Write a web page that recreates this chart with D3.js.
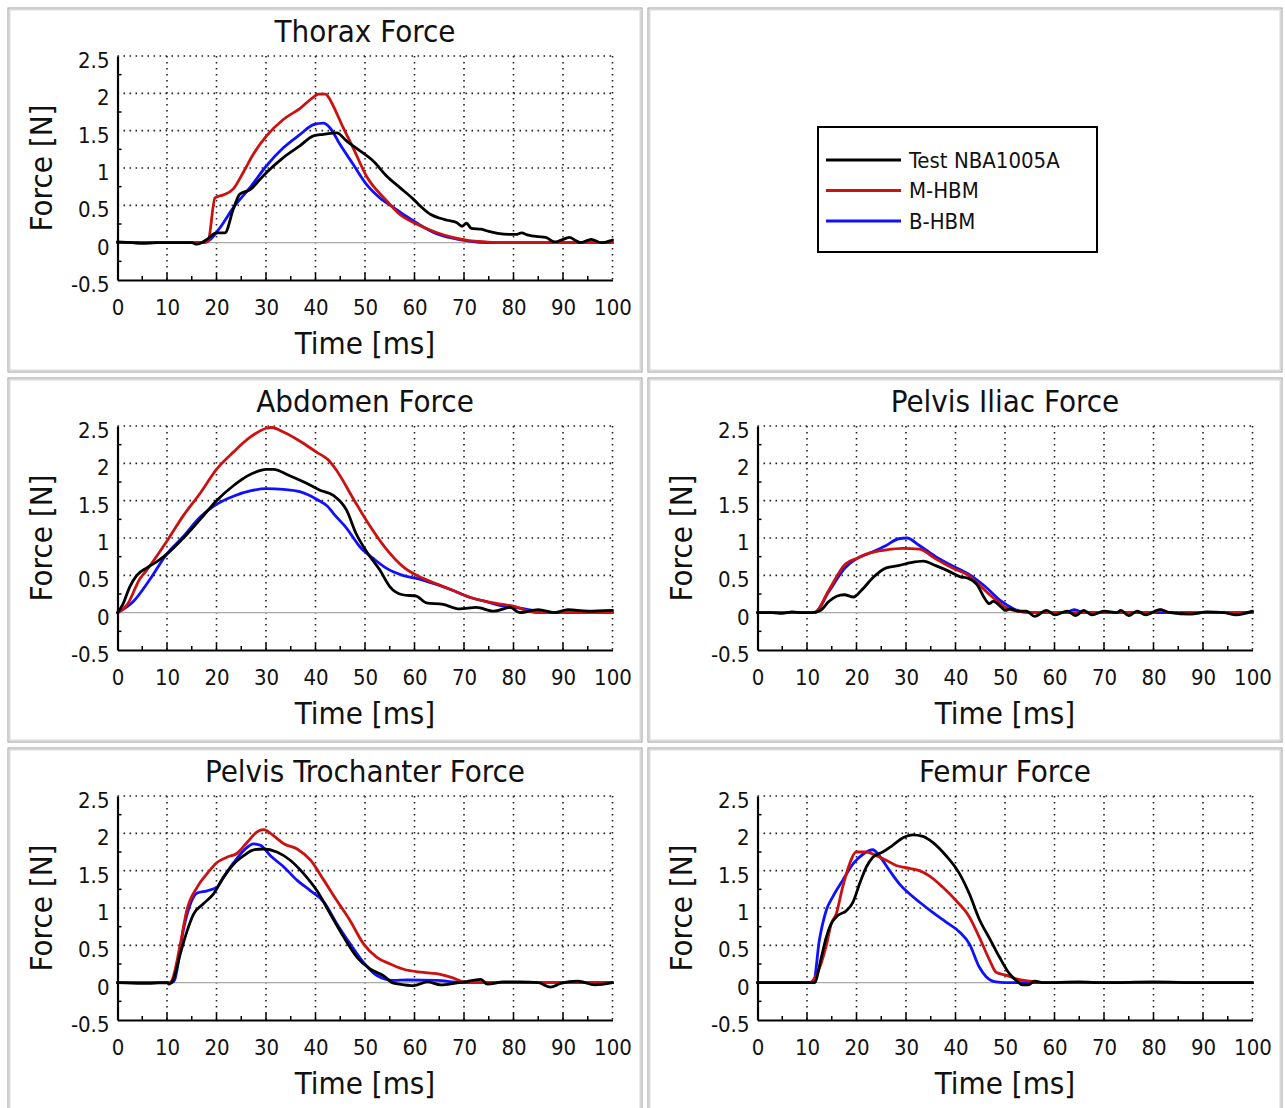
<!DOCTYPE html>
<html>
<head>
<meta charset="utf-8">
<script src="https://cdn.jsdelivr.net/npm/d3@7"></script>
<style>
  html, body { margin: 0; padding: 0; background: #fff; }
  svg { display: block; }
  .cond { font-family: 'DejaVu Sans Condensed', 'DejaVu Sans', sans-serif; font-stretch: condensed; }
  .tick text { font-family: 'DejaVu Sans Condensed', 'DejaVu Sans', sans-serif; font-stretch: condensed; font-size: 22px; fill: #111; }
</style>
</head>
<body>
<svg id="chart" width="1285" height="1108"></svg>
<script>
// Time [ms] / force [N] samples for each body region: test, M-HBM, B-HBM
const thoraxTest = [[0,0.01],[3,0],[5,-0.01],[8,0],[12,0],[15,0],[16,-0.02],[17,0],[18,0.04],[20,0.13],[21.7,0.13],[23.4,0.45],[24.7,0.65],[26.8,0.71],[28.8,0.85],[30.1,0.94],[33.5,1.14],[36.9,1.3],[39.6,1.43],[41.6,1.45],[44.3,1.47],[46.3,1.36],[49,1.23],[51.7,1.09],[54.4,0.89],[57,0.74],[59.8,0.58],[61.5,0.47],[63.2,0.38],[65,0.33],[66.6,0.3],[68.5,0.27],[69.6,0.22],[70.5,0.26],[71.5,0.19],[73.5,0.18],[75,0.15],[76.8,0.125],[79,0.11],[80.5,0.11],[81.6,0.13],[83,0.1],[85,0.08],[86.5,0.07],[88.3,0.01],[89.5,0.03],[91.3,0.07],[92.5,0.03],[93.5,0],[95.7,0.045],[97.7,0],[100,0.035]];
const thoraxM = [[0,0],[17.5,0],[18.3,0.02],[19.7,0.6],[21.4,0.64],[23.4,0.72],[25.4,0.94],[27.4,1.18],[30.1,1.43],[33.5,1.65],[36.9,1.8],[39.6,1.95],[40.6,1.99],[42,1.99],[42.8,1.93],[43.6,1.83],[45.6,1.54],[47.6,1.27],[50.3,0.89],[54.4,0.56],[57,0.38],[60.4,0.25],[64.3,0.14],[67.7,0.07],[71,0.027],[74.4,0.01],[78,0],[100,0]];
const thoraxB = [[0,0],[17.5,0],[18.5,0.03],[20.7,0.2],[23.4,0.47],[26.8,0.74],[30.1,1.03],[33.5,1.27],[36.9,1.45],[39.6,1.58],[41.6,1.6],[42.9,1.54],[44.9,1.32],[47.6,1.05],[50.3,0.78],[53,0.6],[55.8,0.47],[58.4,0.35],[61,0.24],[64.3,0.125],[67.7,0.06],[71,0.02],[75,0],[100,0]];

const abdomenTest = [[0,0],[1,0.1],[2.5,0.35],[3.9,0.5],[5.9,0.6],[7.9,0.68],[9.9,0.78],[13.3,1.0],[16.7,1.25],[20,1.5],[23.4,1.7],[26.8,1.85],[30.1,1.92],[31.5,1.92],[34.9,1.83],[38.3,1.73],[40.9,1.64],[43.6,1.57],[46.3,1.37],[48.2,1.06],[50.3,0.82],[53,0.57],[55,0.35],[57.6,0.24],[60.4,0.22],[62.4,0.13],[65.8,0.11],[69.1,0.05],[72.5,0.07],[76,0.02],[79.3,0.07],[81.3,0],[85,0.04],[88.3,0],[91,0.04],[95,0.02],[100,0.03]];
const abdomenM = [[0,0],[1.9,0.1],[4.5,0.45],[5.9,0.57],[9.9,0.95],[13.3,1.3],[16.7,1.6],[20,1.92],[23.4,2.15],[26.8,2.35],[30.1,2.47],[31.1,2.48],[33.5,2.42],[36.8,2.3],[40.2,2.15],[42.5,2.05],[44.2,1.91],[47.6,1.53],[50.9,1.17],[54.2,0.86],[57.6,0.62],[61,0.48],[64.3,0.39],[67.7,0.3],[71,0.21],[74.4,0.15],[77.8,0.11],[80.4,0.08],[82.5,0.03],[85,0],[100,0]];
const abdomenB = [[0,0],[3.2,0.15],[6.6,0.45],[9.9,0.78],[13.3,1.02],[16.7,1.28],[20,1.45],[23.4,1.56],[26.8,1.63],[30.1,1.66],[33.5,1.65],[36.8,1.62],[40.2,1.52],[42.5,1.42],[43.6,1.33],[46.3,1.13],[49,0.88],[51.6,0.73],[54.2,0.6],[57.6,0.5],[61,0.45],[64.3,0.38],[67.7,0.3],[71,0.21],[74.4,0.15],[77.8,0.09],[81.3,0.06],[85,0.02],[88,0],[100,0]];

const iliacTest = [[0,0],[3,0],[5,-0.01],[7,0.01],[9,0],[11,0],[12.7,0.03],[14.4,0.15],[16,0.22],[17.5,0.24],[19.4,0.21],[21,0.3],[23.5,0.48],[26,0.6],[28.5,0.63],[31,0.67],[33.5,0.69],[36,0.63],[38.5,0.56],[41,0.48],[42.6,0.46],[44.3,0.38],[46,0.18],[46.8,0.12],[47.6,0.15],[49.3,0.07],[50.1,0.03],[51,0.05],[52.6,0.02],[54.3,0.02],[56,-0.05],[58.4,0.03],[60.1,-0.03],[62.6,0.02],[64.3,-0.04],[65.9,0.03],[67.6,-0.03],[70,0.02],[72.6,0],[73.4,0.03],[75,-0.04],[76.7,0.02],[78.4,-0.03],[81.3,0.04],[83.4,0],[87.5,-0.02],[90.8,0.01],[94.2,0],[96.7,-0.03],[100,0.02]];
const iliacM = [[0,0],[11.5,0],[14.4,0.3],[17.7,0.65],[20.2,0.73],[22.7,0.8],[26,0.84],[29.3,0.86],[32.7,0.85],[36,0.72],[39.3,0.6],[42.6,0.5],[45.1,0.35],[47.6,0.2],[50.1,0.07],[52.6,0.02],[56,0],[80,0],[81.5,0.04],[83,0],[100,0]];
const iliacB = [[0,0],[11.5,0],[14.4,0.28],[17.7,0.6],[20.2,0.73],[22.7,0.8],[26,0.9],[28.5,0.99],[30.2,1.0],[32.7,0.9],[36,0.75],[39.3,0.63],[42.6,0.52],[46,0.35],[49.3,0.15],[51.8,0.05],[53.5,0.01],[56,0],[62,0],[64,0.04],[66,0],[100,0]];

const trochTest = [[0,0],[5,-0.01],[10,0],[10.4,-0.02],[11.2,0.03],[12.7,0.39],[14,0.68],[15.4,0.92],[17.4,1.06],[19.4,1.19],[21.4,1.41],[23.5,1.59],[25.5,1.7],[27.5,1.78],[29.5,1.79],[32.2,1.75],[34.9,1.64],[37.6,1.46],[40.3,1.23],[43,0.92],[45.7,0.61],[48.4,0.34],[51.1,0.18],[53.8,0.09],[55.5,0],[57,-0.02],[59.8,-0.04],[62.6,0.01],[65.3,-0.03],[68,-0.01],[70,0.01],[73.4,0.045],[74.7,-0.02],[78,0.01],[81.3,0.01],[85,0],[87.5,-0.06],[89.5,-0.01],[93,0.02],[96.4,-0.03],[100,0]];
const trochM = [[0,0],[10.6,0],[11,0.03],[12.7,0.52],[14,0.97],[16.1,1.28],[18.1,1.46],[20.1,1.61],[22.1,1.68],[24.1,1.73],[26.2,1.88],[28.2,2.02],[29.5,2.05],[31.5,1.97],[33.6,1.86],[36.3,1.79],[39,1.64],[41.7,1.37],[44.3,1.1],[47,0.83],[49.7,0.52],[52.4,0.34],[55.1,0.25],[57.8,0.18],[61.2,0.14],[64.5,0.12],[67.9,0.06],[70,0.01],[72,0],[100,0]];
const trochB = [[0,0],[11,0],[11.5,0.03],[13.4,0.74],[14.7,1.05],[16.1,1.2],[18.1,1.23],[20.1,1.28],[21.4,1.41],[23.5,1.61],[25.5,1.77],[27.5,1.86],[28.9,1.84],[30.9,1.7],[33.6,1.55],[36.3,1.37],[39,1.23],[41.7,1.08],[44.3,0.79],[47,0.52],[49.7,0.27],[52.4,0.096],[55.8,0.03],[58.5,0.036],[64.5,0.03],[68,0.01],[70,0],[100,0]];

const femurTest = [[0,0],[5,0],[10,0],[11.5,0],[12.9,0.34],[13.9,0.61],[14.9,0.79],[16.2,0.9],[17.9,0.96],[19.3,1.08],[20.6,1.32],[22,1.55],[23.3,1.68],[25.3,1.75],[27.3,1.84],[29.4,1.94],[31.4,1.98],[33.4,1.96],[35.4,1.88],[38.1,1.7],[40.8,1.46],[42.8,1.19],[44.8,0.85],[46.9,0.59],[48.9,0.34],[50.9,0.12],[52.6,0.01],[53.5,-0.03],[54.7,-0.03],[56,0.02],[57.6,0],[65,0.01],[70,0],[80,0.01],[90,0],[100,0]];
const femurM = [[0,0],[10.5,0],[11.9,0.1],[13.9,0.5],[14.9,0.79],[15.9,0.92],[17.2,1.28],[18.6,1.59],[19.9,1.75],[22,1.75],[24,1.7],[26,1.64],[28,1.57],[30,1.54],[32.7,1.5],[34.7,1.43],[37.4,1.28],[40.1,1.1],[42.8,0.88],[44.8,0.61],[46.9,0.3],[48.2,0.14],[50.2,0.1],[52.3,0.05],[55.1,0.02],[58.4,0],[100,0]];
const femurB = [[0,0],[11.3,0],[12.5,0.57],[13.9,0.97],[15.2,1.15],[17.2,1.37],[19.3,1.59],[21.3,1.72],[23.3,1.78],[24.6,1.7],[26.7,1.5],[28.7,1.32],[30.7,1.19],[32.7,1.08],[35.4,0.94],[38.1,0.81],[40.8,0.68],[42.8,0.52],[44.8,0.21],[46.2,0.08],[48.2,0.01],[50,0],[100,0]];

const seriesNames = ["Test NBA1005A", "M-HBM", "B-HBM"];
const seriesColors = ["#000000", "#cc1111", "#1010ff"];

const xTicks = [0, 10, 20, 30, 40, 50, 60, 70, 80, 90, 100];
const yTicks = [-0.5, 0, 0.5, 1, 1.5, 2, 2.5];
const yTickLabels = ["-0.5", "0", "0.5", "1", "1.5", "2", "2.5"];
const xMinorTicks = [5, 15, 25, 35, 45, 55, 65, 75, 85, 95];
const yMinorTicks = [-0.25, 0.25, 0.75, 1.25, 1.75, 2.25];

const panelTitles = ["Thorax Force", null, "Abdomen Force", "Pelvis Iliac Force", "Pelvis Trochanter Force", "Femur Force"];
const panelSeries = [[thoraxTest, thoraxM, thoraxB], null, [abdomenTest, abdomenM, abdomenB], [iliacTest, iliacM, iliacB], [trochTest, trochM, trochB], [femurTest, femurM, femurB]];

// Layout
const colX = [8, 648], rowY = [8, 378, 748];
const panelW = 634, panelH = 364;
const plot = { left: 109.5, top: 48, width: 495, height: 224 };

const svg = d3.select("#chart");

const x = d3.scaleLinear().domain([0, 100]).range([0, plot.width]);
const y = d3.scaleLinear().domain([-0.5, 2.5]).range([plot.height, 0]);

const line = d3.line().x(d => x(d[0])).y(d => y(d[1])).curve(d3.curveMonotoneX);

panelTitles.forEach((title, i) => {
  const px = colX[i % 2], py = rowY[Math.floor(i / 2)];
  const panel = svg.append("g").attr("transform", `translate(${px},${py})`);

  // double grey frame
  panel.append("rect").attr("x", 0).attr("y", 0).attr("width", panelW).attr("height", panelH)
    .attr("fill", "#fff").attr("stroke", "#9c9c9c").attr("stroke-width", 1);
  panel.append("rect").attr("x", 1.8).attr("y", 1.8).attr("width", panelW - 3.6).attr("height", panelH - 3.6)
    .attr("fill", "none").attr("stroke", "#d0d0d0").attr("stroke-width", 1.2);

  if (!panelSeries[i]) {
    drawLegend(panel);
    return;
  }

  const g = panel.append("g").attr("transform", `translate(${plot.left},${plot.top})`);

  // dotted grid
  g.append("g").selectAll("line").data(xTicks.slice(1)).join("line")
    .attr("x1", d => x(d)).attr("x2", d => x(d)).attr("y1", 0).attr("y2", plot.height)
    .attr("stroke", "#222").attr("stroke-width", 1.6).attr("stroke-dasharray", "1.6,4.4");
  g.append("g").selectAll("line").data(yTicks.filter(v => v > 0)).join("line")
    .attr("x1", 0).attr("x2", plot.width).attr("y1", d => y(d)).attr("y2", d => y(d))
    .attr("stroke", "#222").attr("stroke-width", 1.6).attr("stroke-dasharray", "1.6,4.4");

  // zero reference
  g.append("line").attr("x1", 0).attr("x2", plot.width).attr("y1", y(0)).attr("y2", y(0))
    .attr("stroke", "#a8a8a8").attr("stroke-width", 1.2);

  // curves
  const order = [2, 1, 0];
  order.forEach(k => {
    g.append("path").datum(panelSeries[i][k])
      .attr("d", line).attr("fill", "none")
      .attr("stroke", seriesColors[k]).attr("stroke-width", 2.8)
      .attr("stroke-linejoin", "round").attr("stroke-linecap", "round");
  });

  // inward minor ticks
  g.append("g").selectAll("line").data(xMinorTicks).join("line")
    .attr("x1", d => x(d)).attr("x2", d => x(d)).attr("y1", plot.height).attr("y2", plot.height - 4)
    .attr("stroke", "#000").attr("stroke-width", 1.5);
  g.append("g").selectAll("line").data(xTicks.slice(1, -1)).join("line")
    .attr("x1", d => x(d)).attr("x2", d => x(d)).attr("y1", plot.height).attr("y2", plot.height - 7)
    .attr("stroke", "#000").attr("stroke-width", 1.5);
  g.append("g").selectAll("line").data(yMinorTicks).join("line")
    .attr("x1", 0).attr("x2", 4).attr("y1", d => y(d)).attr("y2", d => y(d))
    .attr("stroke", "#000").attr("stroke-width", 1.5);

  // axes
  const xAxis = d3.axisBottom(x).tickValues(xTicks).tickSize(0).tickSizeOuter(0).tickPadding(19).tickFormat(d3.format("d"));
  const yAxis = d3.axisLeft(y).tickValues(yTicks).tickSize(0).tickSizeOuter(0).tickPadding(8)
    .tickFormat(d => yTickLabels[yTicks.indexOf(d)]);

  const gx = g.append("g").attr("transform", `translate(0,${plot.height})`).call(xAxis);
  const gy = g.append("g").call(yAxis);
  [gx, gy].forEach(a => {
    a.select(".domain").attr("stroke", "#000").attr("stroke-width", 2.2);
    a.selectAll(".tick text").attr("font-family", null).attr("font-size", null);
  });
  gy.selectAll(".tick text").attr("dy", "0.52em");

  // titles
  panel.append("text").attr("class", "cond")
    .attr("x", plot.left + plot.width / 2).attr("y", 34)
    .attr("text-anchor", "middle").attr("font-size", 31).attr("fill", "#111")
    .text(title);
  panel.append("text").attr("class", "cond")
    .attr("x", plot.left + plot.width / 2).attr("y", 346)
    .attr("text-anchor", "middle").attr("font-size", 31).attr("fill", "#111")
    .text("Time [ms]");
  panel.append("text").attr("class", "cond")
    .attr("transform", `translate(44,${plot.top + plot.height / 2}) rotate(-90)`)
    .attr("text-anchor", "middle").attr("font-size", 31).attr("fill", "#111")
    .text("Force [N]");
});

function drawLegend(panel) {
  const lg = panel.append("g").attr("transform", "translate(170,119)");
  lg.append("rect").attr("x", 0).attr("y", 0).attr("width", 279).attr("height", 125)
    .attr("fill", "#fff").attr("stroke", "#000").attr("stroke-width", 2);
  seriesNames.forEach((name, k) => {
    const yy = 33 + k * 30.5;
    lg.append("line").attr("x1", 8).attr("x2", 83).attr("y1", yy).attr("y2", yy)
      .attr("stroke", seriesColors[k]).attr("stroke-width", 3);
    lg.append("text").attr("class", "cond").attr("x", 91).attr("y", yy).attr("dy", "0.36em")
      .attr("font-size", 22).attr("fill", "#111")
      .text(name);
  });
}
</script>
</body>
</html>
